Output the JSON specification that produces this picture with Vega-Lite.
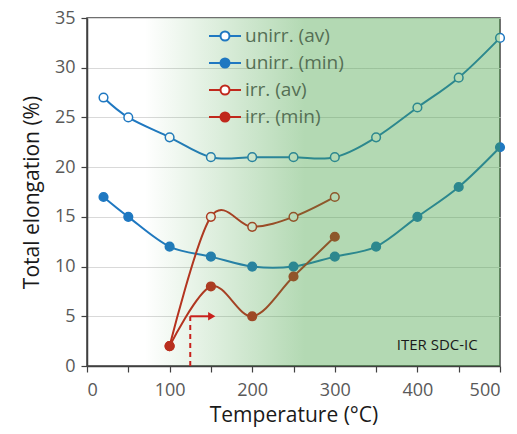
{
  "$schema": "https://vega.github.io/schema/vega-lite/v6.json",
  "width": 413,
  "height": 348,
  "autosize": {"type": "none"},
  "padding": {"left": 87, "top": 18, "right": 17, "bottom": 68},
  "background": "white",
  "config": {
    "font": "Open Sans",
    "view": {"stroke": "#404040", "strokeWidth": 1.5},
    "axis": {
      "labelFont": "Open Sans", "titleFont": "Open Sans",
      "labelFontSize": 18, "labelColor": "#595959",
      "titleFontSize": 21, "titleFontWeight": "normal", "titleColor": "#1a1a1a",
      "domainColor": "#404040", "domainWidth": 1.5,
      "tickColor": "#404040", "tickWidth": 1.2, "tickSize": 6
    }
  },
  "datasets": {
    "curves": [
      {"series": "unirr. (av)", "T": 20, "E": 27},
      {"series": "unirr. (av)", "T": 50, "E": 25},
      {"series": "unirr. (av)", "T": 100, "E": 23},
      {"series": "unirr. (av)", "T": 150, "E": 21},
      {"series": "unirr. (av)", "T": 200, "E": 21},
      {"series": "unirr. (av)", "T": 250, "E": 21},
      {"series": "unirr. (av)", "T": 300, "E": 21},
      {"series": "unirr. (av)", "T": 350, "E": 23},
      {"series": "unirr. (av)", "T": 400, "E": 26},
      {"series": "unirr. (av)", "T": 450, "E": 29},
      {"series": "unirr. (av)", "T": 500, "E": 33},
      {"series": "unirr. (min)", "T": 20, "E": 17},
      {"series": "unirr. (min)", "T": 50, "E": 15},
      {"series": "unirr. (min)", "T": 100, "E": 12},
      {"series": "unirr. (min)", "T": 150, "E": 11},
      {"series": "unirr. (min)", "T": 200, "E": 10},
      {"series": "unirr. (min)", "T": 250, "E": 10},
      {"series": "unirr. (min)", "T": 300, "E": 11},
      {"series": "unirr. (min)", "T": 350, "E": 12},
      {"series": "unirr. (min)", "T": 400, "E": 15},
      {"series": "unirr. (min)", "T": 450, "E": 18},
      {"series": "unirr. (min)", "T": 500, "E": 22},
      {"series": "irr. (av)", "T": 100, "E": 2},
      {"series": "irr. (av)", "T": 150, "E": 15},
      {"series": "irr. (av)", "T": 200, "E": 14},
      {"series": "irr. (av)", "T": 250, "E": 15},
      {"series": "irr. (av)", "T": 300, "E": 17},
      {"series": "irr. (min)", "T": 100, "E": 2},
      {"series": "irr. (min)", "T": 150, "E": 8},
      {"series": "irr. (min)", "T": 200, "E": 5},
      {"series": "irr. (min)", "T": 250, "E": 9},
      {"series": "irr. (min)", "T": 300, "E": 13}
    ],
    "zone": [{"name": "ITER SDC-IC"}]
  },
  "layer": [
    {
      "data": {"name": "curves"},
      "mark": {"type": "line", "interpolate": "cardinal", "strokeWidth": 2},
      "encoding": {
        "x": {
          "field": "T", "type": "quantitative",
          "scale": {"domain": [0, 500], "nice": false},
          "axis": {
            "title": "Temperature (°C)",
            "values": [0, 50, 100, 150, 200, 250, 300, 350, 400, 450, 500],
            "labelExpr": "datum.value % 100 == 0 ? datum.label : ''",
            "grid": false, "labelPadding": 9, "titlePadding": 5
          }
        },
        "y": {
          "field": "E", "type": "quantitative",
          "scale": {"domain": [0, 35], "nice": false},
          "axis": {
            "title": "Total elongation (%)",
            "values": [0, 5, 10, 15, 20, 25, 30, 35],
            "grid": true, "gridColor": "#d9d9d9", "gridWidth": 1.2,
            "labelPadding": 6, "titlePadding": 12
          }
        },
        "stroke": {
          "field": "series", "type": "nominal",
          "scale": {
            "domain": ["unirr. (av)", "unirr. (min)", "irr. (av)", "irr. (min)"],
            "range": ["#1f78c1", "#1f78c1", "#c0281c", "#c0281c"]
          },
          "legend": {
            "title": null,
            "orient": "none", "legendX": 127, "legendY": 7,
            "symbolType": "M-1.6,0L-0.45,0M0.45,0L1.6,0M0.45,0A0.45,0.45,0,1,1,-0.45,0A0.45,0.45,0,1,1,0.45,0Z",
            "symbolSize": 400, "symbolStrokeWidth": 2, "symbolOpacity": 1,
            "labelFontSize": 19, "labelFont": "Open Sans", "labelColor": "#556f55",
            "labelOffset": 9, "rowPadding": 6, "padding": 0
          }
        },
        "detail": {"field": "series"}
      }
    },
    {
      "data": {"name": "curves"},
      "mark": {"type": "point", "shape": "circle", "size": 75, "strokeWidth": 1.5, "opacity": 1},
      "encoding": {
        "x": {"field": "T", "type": "quantitative"},
        "y": {"field": "E", "type": "quantitative"},
        "stroke": {"field": "series", "type": "nominal"},
        "fill": {
          "field": "series", "type": "nominal",
          "scale": {
            "domain": ["unirr. (av)", "unirr. (min)", "irr. (av)", "irr. (min)"],
            "range": ["#ffffff", "#1f78c1", "#ffffff", "#c0281c"]
          },
          "legend": {
            "title": null,
            "orient": "none", "legendX": 127, "legendY": 7,
            "symbolType": "M-1.6,0L-0.45,0M0.45,0L1.6,0M0.45,0A0.45,0.45,0,1,1,-0.45,0A0.45,0.45,0,1,1,0.45,0Z",
            "symbolSize": 400, "symbolStrokeWidth": 2, "symbolOpacity": 1,
            "labelFontSize": 19, "labelFont": "Open Sans", "labelColor": "#556f55",
            "labelOffset": 9, "rowPadding": 6, "padding": 0
          }
        }
      }
    },
    {
      "data": {"name": "zone"},
      "mark": {
        "type": "rect",
        "fill": {
          "gradient": "linear", "x1": 0, "x2": 1, "y1": 0, "y2": 0,
          "stops": [
            {"offset": 0, "color": "rgba(65,160,65,0)"},
            {"offset": 0.45, "color": "rgba(65,160,65,0.4)"},
            {"offset": 1, "color": "rgba(65,160,65,0.4)"}
          ]
        }
      },
      "encoding": {
        "x": {"datum": 70, "type": "quantitative"},
        "x2": {"datum": 500},
        "y": {"datum": 0, "type": "quantitative"},
        "y2": {"datum": 35}
      }
    },
    {
      "data": {"name": "zone"},
      "mark": {"type": "rule", "color": "#c8201c", "strokeWidth": 2, "strokeDash": [5, 4]},
      "encoding": {
        "x": {"datum": 125, "type": "quantitative"},
        "y": {"datum": 0, "type": "quantitative"},
        "y2": {"datum": 5}
      }
    },
    {
      "data": {"name": "zone"},
      "mark": {"type": "rule", "color": "#c8201c", "strokeWidth": 2},
      "encoding": {
        "x": {"datum": 125, "type": "quantitative"},
        "x2": {"datum": 148},
        "y": {"datum": 5, "type": "quantitative"}
      }
    },
    {
      "data": {"name": "zone"},
      "mark": {"type": "point", "shape": "triangle-right", "size": 70, "filled": true, "color": "#c8201c", "opacity": 1},
      "encoding": {
        "x": {"datum": 151, "type": "quantitative"},
        "y": {"datum": 5, "type": "quantitative"}
      }
    },
    {
      "data": {"name": "zone"},
      "mark": {"type": "text", "align": "right", "baseline": "middle", "fontSize": 15, "font": "Open Sans", "color": "#1a1a1a"},
      "encoding": {
        "text": {"field": "name"},
        "x": {"datum": 473, "type": "quantitative"},
        "y": {"datum": 2.1, "type": "quantitative"}
      }
    }
  ]
}
